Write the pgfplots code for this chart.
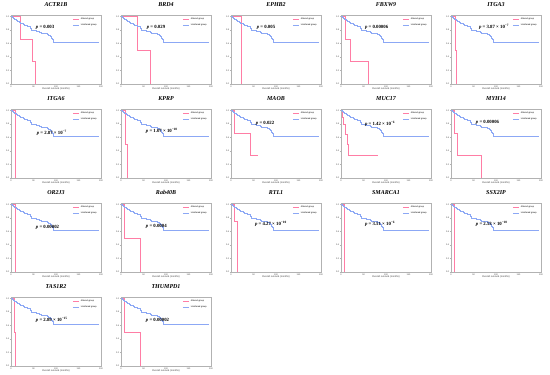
\documentclass[border=0pt]{standalone}
\usepackage{pgfplots}
\pgfplotsset{compat=1.18}
\usepackage{pgfplotstable}
\usepackage{fontspec}
\setmainfont{Liberation Serif}
\setsansfont{Liberation Sans}
\definecolor{kmblue}{RGB}{140,168,245}
\definecolor{kmpink}{RGB}{255,125,165}

\pgfplotstableread{
t s
0 1.0
2 0.99
4 0.98
6 0.97
8 0.96
10 0.95
12 0.935
15 0.92
18 0.91
21 0.90
24 0.89
27 0.885
30 0.875
33 0.87
36 0.86
40 0.85
42 0.82
45 0.80
48 0.795
52 0.79
56 0.78
60 0.775
64 0.765
68 0.755
72 0.75
76 0.745
80 0.735
84 0.72
87 0.70
90 0.68
92 0.655
95 0.62
195 0.62
}\unaltered

\pgfplotsset{kmstyle/.style={
  scale only axis, width=90pt, height=69pt,
  anchor=south west,
  xmin=0, xmax=200, ymin=0, ymax=1.02,
  xtick={0,50,100,150,200}, ytick={0,0.2,0.4,0.6,0.8,1.0},
  yticklabel style={/pgf/number format/fixed,/pgf/number format/precision=1,/pgf/number format/fixed zerofill},
  /pgf/number format/assume math mode=true,
  tick label style={font=\fontsize{2.2}{2.5}\sffamily\selectfont, inner sep=0.6pt, text=black!70},
  axis line style={gray!60, line width=0.3pt},
  major tick length=1pt, tick style={gray!60, line width=0.3pt},
  tick align=outside, xtick pos=bottom, ytick pos=left,
  title style={font=\fontsize{6}{7}\selectfont\bfseries\itshape, yshift=-1.5pt},
  xlabel={Overall survival (months)},
  xlabel style={font=\fontsize{2.5}{3}\sffamily\selectfont, yshift=3.5pt, text=black!75},
  legend style={at={(0.98,0.99)}, anchor=north east, draw=none, fill=none,
    font=\fontsize{2.2}{2.6}\sffamily\selectfont, inner sep=0.3pt, row sep=-1.5pt},
  legend cell align=left,
  legend image code/.code={\draw[##1, line width=0.7pt] (0,0) -- (0.2cm,0);},
}}

\newcommand{\kmpanel}[6]{%
\begin{axis}[kmstyle, at={(11pt+110pt*#1, -84pt-94pt*#2)}, title={#3}]
\addplot[kmpink, line width=0.65pt, const plot] coordinates {#4};
\addlegendentry{Altered group}
\addplot[kmblue, line width=0.6pt, const plot] table[x=t,y=s] {\unaltered};
\addlegendentry{Unaltered group}
\node[anchor=west, font=\fontsize{4.8}{5}\selectfont\bfseries, inner sep=0pt] at (axis cs:#6) {#5};
\end{axis}}

\begin{document}
\begin{tikzpicture}
\useasboundingbox (0,0) rectangle (550pt,-375pt);
% row 0
\kmpanel{0}{0}{ACTR1B}{(0,1)(21,0.667)(48,0.333)(55,0)}{\textit{p} = 0.003}{55,0.83}
\kmpanel{1}{0}{BRD4}{(0,1)(36,0.5)(66,0)}{\textit{p} = 0.029}{57,0.83}
\kmpanel{2}{0}{EPHB2}{(0,1)(22,0)}{\textit{p} = 0.005}{57,0.83}
\kmpanel{3}{0}{FBXW9}{(0,1)(10,0.667)(21,0.333)(60,0)}{\textit{p} = 0.00006}{53,0.84}
\kmpanel{4}{0}{ITGA3}{(0,1)(9,0.5)(11,0)}{\textit{p} = 3.87 × 10\textsuperscript{−7}}{62,0.84}
% row 1
\kmpanel{0}{1}{ITGA6}{(0,1)(9,0)}{\textit{p} = 2.87 × 10\textsuperscript{−7}}{57,0.67}
\kmpanel{1}{1}{KPRP}{(0,1)(9,0.5)(14,0)}{\textit{p} = 1.07 × 10\textsuperscript{−10}}{55,0.70}
\kmpanel{2}{1}{MAOB}{(0,1)(8,0.667)(43,0.333)(60,0.333)}{\textit{p} = 0.022}{55,0.80}
\kmpanel{3}{1}{MUC17}{(0,1)(3,0.9)(6,0.8)(10,0.65)(14,0.5)(17,0.333)(82,0.333)}{\textit{p} = 1.42 × 10\textsuperscript{−6}}{53,0.80}
\kmpanel{4}{1}{MYH14}{(0,1)(7,0.667)(13,0.333)(68,0)}{\textit{p} = 0.00006}{55,0.82}
% row 2
\kmpanel{0}{2}{OR2J3}{(0,1)(10,0)}{\textit{p} = 0.00002}{55,0.66}
\kmpanel{1}{2}{Rab40B}{(0,1)(8,0.5)(44,0)}{\textit{p} = 0.0004}{55,0.67}
\kmpanel{2}{2}{RTL1}{(0,1)(8,0.75)(13,0)}{\textit{p} = 4.27 × 10\textsuperscript{−10}}{53,0.71}
\kmpanel{3}{2}{SMARCA1}{(0,1)(7,0)}{\textit{p} = 3.51 × 10\textsuperscript{−6}}{53,0.71}
\kmpanel{4}{2}{SSX2IP}{(0,1)(8,0)}{\textit{p} = 2.53 × 10\textsuperscript{−10}}{55,0.71}
% row 3
\kmpanel{0}{3}{TAS1R2}{(0,1)(7,0.5)(10,0)}{\textit{p} = 2.89 × 10\textsuperscript{−15}}{55,0.68}
\kmpanel{1}{3}{THUMPD1}{(0,1)(8,0.5)(42,0)}{\textit{p} = 0.00002}{55,0.68}
\end{tikzpicture}
\end{document}
